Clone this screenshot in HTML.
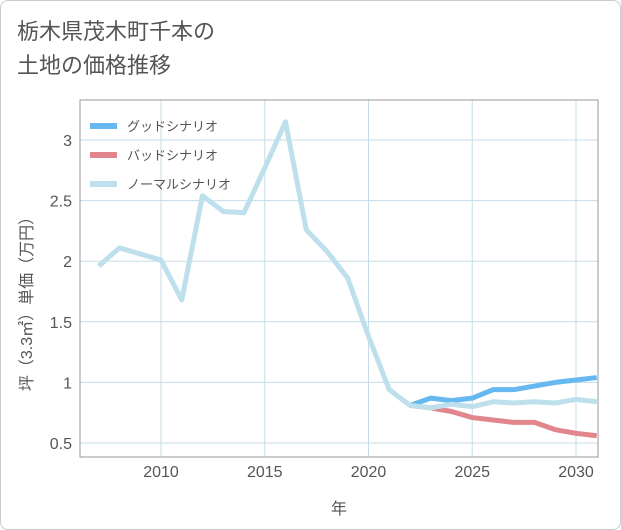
<!DOCTYPE html>
<html><head><meta charset="utf-8"><style>
body{margin:0;background:#fff;}
#wrap{position:relative;width:619px;height:528px;border:1px solid #ccc;border-radius:8px;background:#fff;overflow:hidden;font-family:"Liberation Sans","Noto Sans CJK JP",sans-serif;}
#title{position:absolute;left:16px;top:14px;font-size:22px;line-height:34px;color:#555;}
</style></head><body>
<div id="wrap">
<div id="title">栃木県茂木町千本の<br>土地の価格推移</div>
<svg id="chart" width="621" height="530" style="position:absolute;left:-1px;top:-1px"></svg>
</div>
<script>
const years=[2007,2008,2009,2010,2011,2012,2013,2014,2015,2016,2017,2018,2019,2020,2021,2022,2023,2024,2025,2026,2027,2028,2029,2030,2031];
const normalVals=[1.96,2.11,2.06,2.01,1.68,2.54,2.41,2.40,2.77,3.15,2.26,2.08,1.86,1.38,0.94,0.81,0.79,0.82,0.80,0.84,0.83,0.84,0.83,0.86,0.84];
const futureYears=[2022,2023,2024,2025,2026,2027,2028,2029,2030,2031];
const goodVals=[0.81,0.87,0.85,0.87,0.94,0.94,0.97,1.00,1.02,1.04];
const badVals=[0.81,0.79,0.76,0.71,0.69,0.67,0.67,0.61,0.58,0.56];
const xTicks=[2010,2015,2020,2025,2030];
const yTicks=[0.5,1,1.5,2,2.5,3];
const yTickLabels=["0.5","1","1.5","2","2.5","3"];
const NS="http://www.w3.org/2000/svg";
const svg=document.getElementById('chart');
const L=80,R=598,T=100,B=457;
const x=v=>161+(v-2010)*20.75;
const y=v=>443-(v-0.5)*121.2;
function mk(tag,attrs){const e=document.createElementNS(NS,tag);for(const k in attrs)e.setAttribute(k,attrs[k]);svg.appendChild(e);return e;}
xTicks.forEach(t=>{const l=mk('line',{x1:x(t),x2:x(t),y1:T,y2:B,stroke:'#c5dde8','stroke-width':1});


const tx=mk('text',{x:x(t),y:477,'text-anchor':'middle','font-size':16,fill:'#555','font-family':'Liberation Sans, sans-serif'});tx.textContent=t;

});
yTicks.forEach((t,i)=>{const l=mk('line',{x1:L,x2:R,y1:y(t),y2:y(t),stroke:'#c5dde8','stroke-width':1});


const tx=mk('text',{x:72,y:y(t)+6,'text-anchor':'end','font-size':16,fill:'#555','font-family':'Liberation Sans, sans-serif'});tx.textContent=yTickLabels[i];

});
const frame=mk('rect',{x:L,y:T,width:R-L,height:B-T,fill:'none',stroke:'#999','stroke-width':1});


const clip=mk('clipPath',{id:'cp'});const cr=document.createElementNS(NS,'rect');cr.setAttribute('x',L);cr.setAttribute('y',T);cr.setAttribute('width',R-L);cr.setAttribute('height',B-T);clip.appendChild(cr);
function line(xs,vs,color,name){const p=mk('polyline',{points:xs.map((yr,i)=>x(yr)+','+y(vs[i])).join(' '),fill:'none',stroke:color,'stroke-width':5,'stroke-linejoin':'round','clip-path':'url(#cp)'});

}
line(futureYears,badVals,'#e0868c','bad-scenario-line');
line(futureYears,goodVals,'#66b8f0','good-scenario-line');
line(years,normalVals,'#bde0ec','normal-scenario-line');
const leg=[['グッドシナリオ','#66b8f0','legend-good'],['バッドシナリオ','#e0868c','legend-bad'],['ノーマルシナリオ','#bde0ec','legend-normal']];
leg.forEach((d,i)=>{const yy=126+i*29;
const l=mk('line',{x1:90,x2:117,y1:yy,y2:yy,stroke:d[1],'stroke-width':6});


const t=mk('text',{x:127,y:yy+5,'font-size':13,fill:'#555','font-family':'Liberation Sans, Noto Sans CJK JP, sans-serif'});t.textContent=d[0];

});
const xt=mk('text',{x:339,y:514,'text-anchor':'middle','font-size':16,fill:'#555','font-family':'Noto Sans CJK JP, sans-serif'});xt.textContent='年';


const yt=mk('text',{x:0,y:0,'text-anchor':'middle','font-size':16,fill:'#555','font-family':'Liberation Sans, Noto Sans CJK JP, sans-serif',transform:'translate(32,300) rotate(-90)'});yt.textContent='坪（3.3㎡）単価（万円）';


</script>
</body></html>
